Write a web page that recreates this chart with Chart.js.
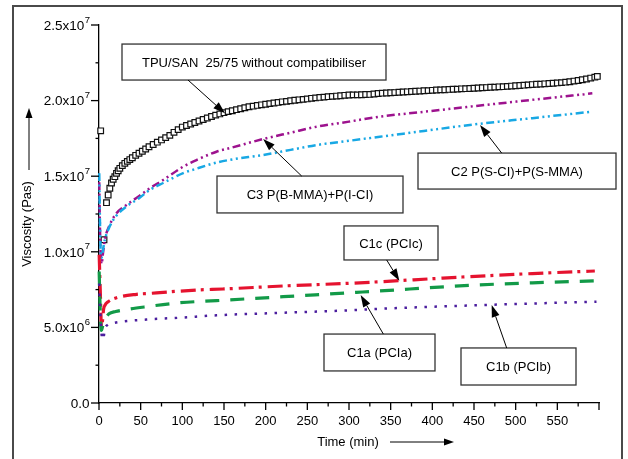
<!DOCTYPE html>
<html>
<head>
<meta charset="utf-8">
<script src="https://cdn.jsdelivr.net/npm/chart.js@4/dist/chart.umd.min.js"></script>
<style>
  html,body{margin:0;padding:0;background:#fff;}
  canvas{display:block;}
</style>
</head>
<body>
<canvas id="c" width="628" height="459"></canvas>
<script>
// ---- DATA (viscosity in units of 1e6 Pas, time in min) ----
const tpuT = [2,6,9,11,13,15,17,19,21,23,25,28,31,34,37,40,44,48,52,56,60,
  65,70,75,80,85,90,95,100,105,110,115,120,125,130,135,140,145,150,155,160,165,170,175,180,
  185,190,195,200,205,210,215,220,225,230,235,240,245,250,255,260,265,270,275,280,285,290,295,300,
  305,310,315,320,325,330,335,340,345,350,355,360,365,370,375,380,385,390,395,400,
  405,410,415,420,425,430,435,440,445,450,455,460,465,470,475,480,485,490,495,500,
  505,510,515,520,525,530,535,540,545,550,555,560,565,570,575,580,585,590,595,598];
const tpuV = [18.0,10.8,13.25,13.76,14.2,14.55,14.8,14.97,15.19,15.36,15.52,15.7,15.85,15.98,16.1,16.22,16.38,16.52,16.65,16.8,16.95,
  17.1,17.25,17.4,17.55,17.7,17.9,18.08,18.25,18.35,18.45,18.55,18.65,18.75,18.85,18.95,19.04,19.12,19.2,19.27,19.33,19.4,19.46,19.53,19.59,
  19.63,19.68,19.72,19.76,19.8,19.84,19.88,19.92,19.95,19.99,20.02,20.05,20.08,20.11,20.15,20.18,20.21,20.23,20.26,20.28,20.3,20.32,20.35,20.37,
  20.38,20.38,20.39,20.4,20.41,20.44,20.47,20.49,20.5,20.52,20.53,20.55,20.57,20.58,20.6,20.62,20.63,20.65,20.66,20.68,
  20.7,20.71,20.72,20.74,20.75,20.76,20.78,20.79,20.8,20.82,20.83,20.85,20.86,20.88,20.89,20.91,20.92,20.94,20.96,20.98,
  21.0,21.02,21.04,21.06,21.08,21.09,21.11,21.13,21.15,21.17,21.19,21.22,21.25,21.29,21.33,21.38,21.43,21.49,21.55,21.6];

const c3T = [0.3,1,2,3,5,7,13,21,33,47,61,77,101,117,141,160,197,230,261,300,337,390,445,520,592];
const c3V = [14.6,12.0,10.0,9.2,10.0,10.8,11.8,12.55,13.1,13.64,14.2,14.75,15.63,16.07,16.62,16.9,17.46,17.88,18.27,18.61,18.94,19.26,19.6,20.05,20.48];

const c2T = [0.3,1,2,3,5,7,13,21,33,47,61,77,101,117,141,160,197,230,261,300,337,390,445,520,592];
const c2V = [15.2,12.5,10.0,9.6,10.2,10.8,11.7,12.4,13.0,13.5,14.09,14.55,15.2,15.5,15.9,16.11,16.4,16.74,17.06,17.34,17.61,17.99,18.39,18.84,19.27];

const c1cT = [0.2,1.5,3,4.5,5.5,7,11,21,45,61,77,117,149,221,301,337,400,445,520,595];
const c1cV = [9.8,7.5,5.0,5.6,6.2,6.45,6.7,6.96,7.19,7.25,7.32,7.47,7.54,7.74,7.92,8.02,8.22,8.36,8.56,8.73];

const c1aT = [0.2,1,2,3,4,6,9,12,20,29,57,97,141,221,309,325,445,520,595];
const c1aV = [8.7,7.0,5.3,4.8,5.0,5.4,5.7,5.9,6.05,6.15,6.37,6.63,6.77,7.03,7.32,7.37,7.78,7.95,8.08];

const c1bT = [0.2,1.5,3,5,7,10,19,57,97,141,221,309,325,445,520,597];
const c1bV = [7.9,6.0,4.6,4.2,4.9,5.15,5.31,5.52,5.64,5.8,5.97,6.15,6.2,6.45,6.58,6.7];

// axis tick labels
const xLabelVals = [0,50,100,150,200,250,300,350,400,450,500,550];
const yTickVals = [0,5,10,15,20,25];
const yTickMant = ['0.0','5.0x10','1.0x10','1.5x10','2.0x10','2.5x10'];
const yTickExp  = ['','6','7','7','7','7'];

// annotation texts and anchor points (time, value)
const noteText = ['TPU/SAN  25/75 without compatibiliser','C3 P(B-MMA)+P(I-CI)','C2 P(S-CI)+P(S-MMA)','C1c (PCIc)','C1a (PCIa)','C1b (PCIb)'];
const noteBox  = [[27.6,23.74,344.4,21.36],[141.6,15.01,364.8,12.57],[382.8,16.53,620.4,14.15],[294,11.71,406.8,9.46],[270,4.56,403.2,2.12],[434.4,3.64,572.4,1.19]];
const noteFrom = [[106.8,21.36],[243.2,15.01],[483.2,16.53],[345.2,9.46],[341.2,4.56],[489.2,3.64]];
const noteTo   = [[151.2,19.16],[197,17.46],[457.2,18.39],[360.4,8.09],[314,7.14],[471.2,6.48]];

const pts = (t, v) => t.map((x, i) => ({x, y: v[i]}));
const FONT = '"Liberation Sans", Arial, Helvetica, sans-serif';

function arrow(ctx, x1, y1, x2, y2, head, half) {
  const a = Math.atan2(y2 - y1, x2 - x1);
  const bx = x2 - head * Math.cos(a), by = y2 - head * Math.sin(a);
  ctx.beginPath(); ctx.moveTo(x1, y1); ctx.lineTo(bx, by); ctx.stroke();
  ctx.beginPath();
  ctx.moveTo(x2, y2);
  ctx.lineTo(bx + half * Math.sin(a), by - half * Math.cos(a));
  ctx.lineTo(bx - half * Math.sin(a), by + half * Math.cos(a));
  ctx.closePath(); ctx.fill();
}

const deco = {
  id: 'deco',
  afterDraw(chart) {
    const {ctx, chartArea: ca, scales: {x, y}} = chart;
    ctx.save();
    // ticks
    ctx.strokeStyle = '#000'; ctx.lineWidth = 1.3;
    x.ticks.forEach(t => {
      const px = x.getPixelForValue(t.value);
      const len = (t.value % 50 === 0) ? 7 : 3.5;
      ctx.beginPath(); ctx.moveTo(px, ca.bottom); ctx.lineTo(px, ca.bottom + len); ctx.stroke();
    });
    y.ticks.forEach(t => {
      const py = y.getPixelForValue(t.value);
      const len = (Math.abs(t.value % 5) < 1e-9) ? 8 : 3.5;
      ctx.beginPath(); ctx.moveTo(ca.left - len, py); ctx.lineTo(ca.left, py); ctx.stroke();
    });
    // y labels with superscripts
    ctx.fillStyle = '#000';
    ctx.textBaseline = 'middle';
    yTickVals.forEach((v, i) => {
      const py = y.getPixelForValue(v) + 1;
      const right = ca.left - 9;
      ctx.font = '9.5px ' + FONT;
      const ew = yTickExp[i] ? ctx.measureText(yTickExp[i]).width : 0;
      ctx.textAlign = 'right';
      if (yTickExp[i]) ctx.fillText(yTickExp[i], right, py - 6);
      ctx.font = '13.5px ' + FONT;
      ctx.fillText(yTickMant[i], right - ew - 0.5, py);
    });
    // axis titles
    ctx.font = '13px ' + FONT;
    ctx.save();
    ctx.translate(27, 224);
    ctx.rotate(-Math.PI / 2);
    ctx.textAlign = 'center';
    ctx.fillText('Viscosity (Pas)', 0, 0);
    ctx.restore();
    ctx.lineWidth = 1;
    arrow(ctx, 29, 170, 29, 108, 10, 3.5);
    ctx.textAlign = 'center';
    ctx.fillText('Time (min)', 348, 442);
    arrow(ctx, 390, 442, 454, 442, 10, 3.5);
    // annotations
    noteText.forEach((txt, i) => {
      const b = noteBox[i];
      const x1 = x.getPixelForValue(b[0]), y1 = y.getPixelForValue(b[1]);
      const x2 = x.getPixelForValue(b[2]), y2 = y.getPixelForValue(b[3]);
      ctx.fillStyle = '#fff';
      ctx.fillRect(x1, y1, x2 - x1, y2 - y1);
      ctx.strokeStyle = '#333'; ctx.lineWidth = 1.3;
      ctx.strokeRect(x1, y1, x2 - x1, y2 - y1);
      ctx.fillStyle = '#000';
      ctx.font = '13px ' + FONT;
      ctx.textAlign = 'center'; ctx.textBaseline = 'middle';
      ctx.fillText(txt, (x1 + x2) / 2, (y1 + y2) / 2 + 1);
      ctx.strokeStyle = '#000'; ctx.lineWidth = 1;
      arrow(ctx, x.getPixelForValue(noteFrom[i][0]), y.getPixelForValue(noteFrom[i][1]),
                 x.getPixelForValue(noteTo[i][0]), y.getPixelForValue(noteTo[i][1]), 12, 4);
    });
    // outer frame
    ctx.strokeStyle = '#4a4a4a'; ctx.lineWidth = 2;
    ctx.strokeRect(13, 6, 609, 480);
    ctx.restore();
  }
};

const lineDs = (label, t, v, color, dash, w) => ({
  label, data: pts(t, v), borderColor: color, borderWidth: w, borderDash: dash,
  pointRadius: 0, fill: false, cubicInterpolationMode: 'monotone', clip: false, borderCapStyle: 'butt'
});

new Chart(document.getElementById('c'), {
  type: 'line',
  data: {
    datasets: [
      lineDs('C1b (PCIb)', c1bT, c1bV, '#4b1e9e', [2.5, 7.5], 2.5),
      lineDs('C1a (PCIa)', c1aT, c1aV, '#129a48', [14, 11], 3.2),
      lineDs('C1c (PCIc)', c1cT, c1cV, '#e5132f', [15, 5, 3, 6], 3.2),
      lineDs('C2 P(S-CI)+P(S-MMA)', c2T, c2V, '#18a8e4', [8, 3.5, 2, 3.5, 2, 3.5], 2.5),
      lineDs('C3 P(B-MMA)+P(I-CI)', c3T, c3V, '#9d128e', [8, 3.5, 2, 3.5, 2, 3.5], 2.5),
      {
        label: 'TPU/SAN 25/75 without compatibiliser', data: pts(tpuT, tpuV),
        showLine: false, pointStyle: 'rect', pointRadius: 4, pointBorderWidth: 1.2,
        pointBackgroundColor: '#fff', pointBorderColor: '#111', clip: false
      }
    ]
  },
  options: {
    responsive: false, animation: false, devicePixelRatio: 1,
    layout: {padding: {top: 25, right: 29, left: 0, bottom: 0}},
    plugins: {legend: {display: false}, tooltip: {enabled: false}},
    scales: {
      x: {
        type: 'linear', min: 0, max: 600,
        afterFit: s => { s.height = 56; },
        grid: {drawOnChartArea: false, color: 'rgba(0,0,0,0)', tickLength: 7},
        border: {display: true, color: '#000', width: 1.3},
        ticks: {
          stepSize: 25, autoSkip: false, maxRotation: 0, padding: 4,
          color: '#000', font: {family: FONT, size: 13},
          callback: v => xLabelVals.includes(v) ? String(v) : ''
        }
      },
      y: {
        type: 'linear', min: 0, max: 25,
        afterFit: s => { s.width = 99; },
        grid: {drawOnChartArea: false, color: 'rgba(0,0,0,0)', tickLength: 8},
        border: {display: true, color: '#000', width: 1.3},
        ticks: {stepSize: 2.5, display: false}
      }
    }
  },
  plugins: [deco]
});
</script>
</body>
</html>
